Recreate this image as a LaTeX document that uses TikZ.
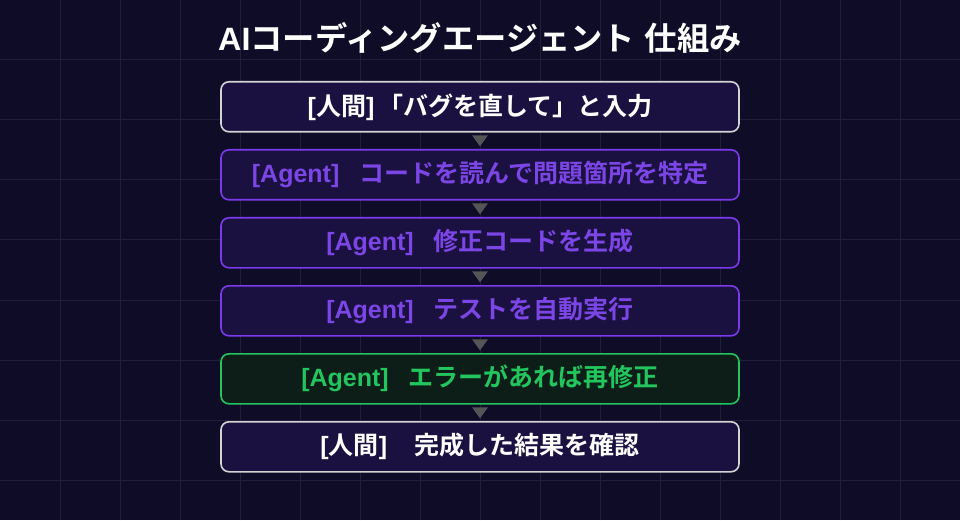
\documentclass[tikz,border=0pt]{standalone}
\usepackage{fontspec}
\setmainfont{Noto Sans CJK JP}[BoldFont={* Bold}]
\newfontfamily\jpb{Noto Sans CJK JP Bold}
\newfontfamily\latb{Liberation Sans Bold}
\newcommand{\lt}[1]{{\latb #1}}
\definecolor{bgc}{HTML}{0F0C28}
\definecolor{gridc}{HTML}{221E3C}
\definecolor{boxfill}{HTML}{1B1141}
\definecolor{whiteb}{HTML}{D4D4D4}
\definecolor{purpb}{HTML}{7C3AED}
\definecolor{purpt}{HTML}{7C45E6}
\definecolor{greenb}{HTML}{22C55E}
\definecolor{greenfill}{HTML}{0C1E17}
\definecolor{arrc}{HTML}{555555}
\tikzset{
  flowbox/.style={rounded corners=8pt, line width=1.6pt, minimum width=518pt, minimum height=50pt, inner sep=0pt, font=\jpb\fontsize{25}{28}\selectfont, anchor=north},
  humanbox/.style={flowbox, draw=whiteb, fill=boxfill, text=white},
  agentbox/.style={flowbox, draw=purpb, fill=boxfill, text=purpt},
  greenbox/.style={flowbox, draw=greenb, fill=greenfill, text=greenb},
  tri/.style={fill=arrc, draw=none}
}
\begin{document}
\begin{tikzpicture}[x=1pt,y=1pt]
\fill[bgc] (0,0) rectangle (960,520);
\useasboundingbox (0,0) rectangle (960,520);
\foreach \i in {60,120,...,900} \draw[gridc, line width=1pt] (\i,0) -- (\i,520);
\foreach \j in {40,100,...,520} \draw[gridc, line width=1pt] (0,\j) -- (960,\j);
\node[text=white, font=\jpb\fontsize{32.3}{36}\selectfont] (title) at (480,482) {\lt{AI}コーディングエージェント\hspace{0.3em}仕組み};
\node[humanbox] (b1) at (480,439) {\lt{[}人間\lt{]}\hspace{0.15em}「バグを直して」と入力};
\node[agentbox] (b2) at (480,371) {\lt{[Agent]}\hspace{0.8em}コードを読んで問題箇所を特定};
\node[agentbox] (b3) at (480,303) {\lt{[Agent]}\hspace{0.8em}修正コードを生成};
\node[agentbox] (b4) at (480,235) {\lt{[Agent]}\hspace{0.8em}テストを自動実行};
\node[greenbox] (b5) at (480,167) {\lt{[Agent]}\hspace{0.8em}エラーがあれば再修正};
\node[humanbox] (b6) at (480,99) {\lt{[}人間\lt{]}\hspace{1.1em}完成した結果を確認};
\foreach \a/\b in {b1/b2,b2/b3,b3/b4,b4/b5,b5/b6}{
  \path (\a.south) -- (\b.north) coordinate[pos=0.5] (m);
  \fill[tri] ([xshift=-8pt,yshift=5.5pt]m) -- ([xshift=8pt,yshift=5.5pt]m) -- ([yshift=-5.5pt]m) -- cycle;
}
\end{tikzpicture}
\end{document}
